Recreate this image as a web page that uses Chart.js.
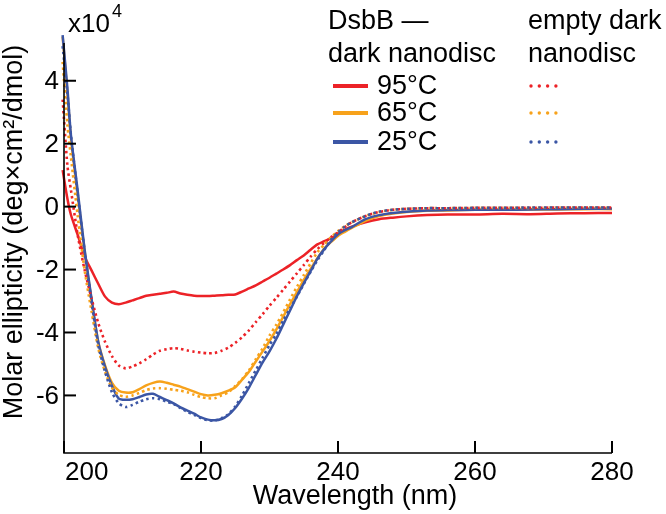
<!DOCTYPE html>
<html>
<head>
<meta charset="utf-8">
<script src="https://cdn.jsdelivr.net/npm/chart.js@4/dist/chart.umd.min.js"></script>
<style>
  html, body { margin: 0; padding: 0; background: #fff; }
  #wrap { width: 666px; height: 514px; }
</style>
</head>
<body>
<div id="wrap"><canvas id="cd" width="666" height="514"></canvas></div>
<script>
// --- DATA (units of 10^4 deg·cm²/dmol) ---
const wavelength = [199.8, 200.5, 201, 202, 203, 204, 205, 206, 207, 208, 209, 210, 211, 212, 213, 214, 215, 216, 217, 218, 219, 220,
  221, 222, 223, 224, 225, 226, 227, 228, 229, 230, 231, 232, 233, 234, 235, 236, 237, 238, 239, 240, 241, 242, 244, 246, 248, 250,
  253, 256, 260, 264, 268, 272, 276, 280];

const dsbb95 = [1.16, 0.25, -0.25, -0.9, -1.58, -2.02, -2.45, -2.86, -3.05, -3.1, -3.05, -2.98, -2.91, -2.83, -2.8, -2.77, -2.74, -2.7, -2.76, -2.8, -2.83, -2.84,
  -2.84, -2.83, -2.82, -2.8, -2.79, -2.7, -2.6, -2.5, -2.38, -2.26, -2.13, -2.0, -1.86, -1.7, -1.55, -1.37, -1.2, -1.1, -1.0, -0.85, -0.73, -0.64, -0.5, -0.4, -0.35, -0.31,
  -0.27, -0.25, -0.25, -0.23, -0.24, -0.22, -0.21, -0.2];
const dsbb65 = [5.4, 3.6, 2.2, 0.35, -1.4, -2.95, -4.3, -5.05, -5.6, -5.85, -5.91, -5.9, -5.8, -5.68, -5.6, -5.56, -5.6, -5.66, -5.72, -5.8, -5.88, -5.96,
  -6.0, -5.98, -5.93, -5.85, -5.74, -5.5, -5.25, -4.92, -4.6, -4.27, -3.9, -3.5, -3.1, -2.72, -2.33, -1.98, -1.64, -1.33, -1.12, -0.93, -0.8, -0.68, -0.45, -0.3, -0.22, -0.17,
  -0.13, -0.12, -0.1, -0.1, -0.09, -0.09, -0.08, -0.08];
const dsbb25 = [5.45, 3.75, 2.3, 0.5, -1.35, -2.9, -4.3, -5.1, -5.7, -6.1, -6.14, -6.12, -6.05, -5.97, -5.95, -6.05, -6.15, -6.25, -6.38, -6.48, -6.58, -6.7,
  -6.77, -6.79, -6.75, -6.62, -6.4, -6.1, -5.75, -5.35, -4.95, -4.6, -4.2, -3.75, -3.3, -2.85, -2.44, -2.05, -1.65, -1.35, -1.1, -0.88, -0.75, -0.65, -0.4, -0.27, -0.2, -0.16,
  -0.12, -0.11, -0.1, -0.1, -0.09, -0.08, -0.07, -0.06];

const empty95 = [3.4, 1.3, 0.55, -0.9, -2.0, -2.9, -3.7, -4.3, -4.75, -5.05, -5.14, -5.08, -4.98, -4.85, -4.7, -4.58, -4.53, -4.5, -4.52, -4.57, -4.61, -4.64,
  -4.66, -4.65, -4.58, -4.48, -4.33, -4.15, -3.93, -3.67, -3.42, -3.15, -2.9, -2.64, -2.38, -2.12, -1.86, -1.59, -1.35, -1.15, -0.97, -0.82, -0.65, -0.5, -0.3, -0.17, -0.1, -0.07,
  -0.05, -0.05, -0.04, -0.04, -0.04, -0.03, -0.03, -0.03];
const empty65 = [4.6, 2.6, 1.6, -0.3, -2.0, -3.3, -4.5, -5.25, -5.75, -5.98, -6.04, -6.0, -5.92, -5.83, -5.78, -5.77, -5.79, -5.82, -5.85, -5.9, -5.98, -6.05,
  -6.09, -6.09, -6.0, -5.9, -5.7, -5.48, -5.2, -4.85, -4.5, -4.1, -3.75, -3.36, -2.95, -2.55, -2.18, -1.8, -1.45, -1.2, -0.97, -0.78, -0.62, -0.5, -0.3, -0.17, -0.1, -0.07,
  -0.05, -0.05, -0.04, -0.04, -0.04, -0.03, -0.03, -0.03];
const empty25 = [5.1, 3.6, 2.3, 0.4, -1.4, -3.0, -4.4, -5.25, -5.9, -6.25, -6.37, -6.3, -6.2, -6.12, -6.09, -6.12, -6.2, -6.27, -6.4, -6.52, -6.62, -6.72,
  -6.79, -6.8, -6.72, -6.6, -6.35, -6.0, -5.6, -5.2, -4.8, -4.4, -4.05, -3.62, -3.24, -2.86, -2.46, -2.07, -1.7, -1.38, -1.04, -0.82, -0.63, -0.5, -0.3, -0.16, -0.1, -0.07,
  -0.05, -0.05, -0.04, -0.04, -0.03, -0.03, -0.03, -0.03];

const xTicks = [200, 220, 240, 260, 280];
const yTicks = [-6, -4, -2, 0, 2, 4];
const tempLabels = ['95°C', '65°C', '25°C'];

const RED = '#ec2227', ORANGE = '#f7a21b', BLUE = '#3b56a5';
const FONT = '"Liberation Sans", Arial, sans-serif';

const pts = arr => arr.map((v, i) => ({ x: wavelength[i], y: v }));
const clipBox = { left: 6, top: 12, right: 2, bottom: 2 };

function solid(data, color) {
  return { data: pts(data), borderColor: color, borderWidth: 2.5, pointRadius: 0, tension: 0.25, clip: clipBox };
}
function dotted(data, color) {
  return { data: pts(data), borderColor: color, borderWidth: 2.6, borderDash: [2.5, 3.2], pointRadius: 0, tension: 0.25, clip: clipBox };
}

// --- axes, ticks, titles and legend drawn by hand (MATLAB-like inner ticks) ---
const decor = {
  id: 'decor',
  afterDraw(chart) {
    const ctx = chart.ctx;
    const { left, right, top, bottom } = chart.chartArea;
    const xs = chart.scales.x, ys = chart.scales.y;
    ctx.save();
    ctx.strokeStyle = '#000';
    ctx.fillStyle = '#000';
    ctx.lineWidth = 1.6;
    ctx.beginPath();
    ctx.moveTo(left, top); ctx.lineTo(left, bottom); ctx.lineTo(right, bottom);
    ctx.stroke();

    ctx.lineWidth = 2;
    ctx.font = '26px ' + FONT;
    ctx.textBaseline = 'middle';
    ctx.textAlign = 'right';
    yTicks.forEach(v => {
      const y = ys.getPixelForValue(v);
      ctx.beginPath(); ctx.moveTo(left, y); ctx.lineTo(left + 12, y); ctx.stroke();
      ctx.fillText(String(v), left - 5, y + 1);
    });
    xTicks.forEach((v, i) => {
      const x = xs.getPixelForValue(v);
      ctx.beginPath(); ctx.moveTo(x, bottom); ctx.lineTo(x, bottom - 12); ctx.stroke();
      ctx.textAlign = i === 0 ? 'left' : 'center';
      ctx.fillText(String(v), i === 0 ? x + 1 : x, 473);
    });

    // x10^4
    ctx.textAlign = 'left';
    ctx.fillText('x10', 68, 25);
    ctx.font = '18px ' + FONT;
    ctx.fillText('4', 112, 12);

    // titles
    ctx.font = '27px ' + FONT;
    ctx.textAlign = 'center';
    ctx.fillText('Wavelength (nm)', 355, 497);
    ctx.save();
    ctx.translate(15, 232);
    ctx.rotate(-Math.PI / 2);
    ctx.fillText('Molar ellipticity (deg×cm²/dmol)', 0, 0);
    ctx.restore();

    // legend
    ctx.textAlign = 'left';
    ctx.fillText('DsbB —', 328, 22);
    ctx.fillText('dark nanodisc', 328, 55);
    ctx.fillText('empty dark', 528, 22);
    ctx.fillText('nanodisc', 528, 55);
    const rows = [86, 113, 142];
    [RED, ORANGE, BLUE].forEach((c, i) => {
      const y = rows[i];
      ctx.strokeStyle = c;
      ctx.lineWidth = 4;
      ctx.setLineDash([]);
      ctx.beginPath(); ctx.moveTo(333, y); ctx.lineTo(368, y); ctx.stroke();
      ctx.fillStyle = c;
      for (let k = 0; k < 4; k++) {
        ctx.beginPath(); ctx.arc(531 + k * 8.3, y, 1.7, 0, Math.PI * 2); ctx.fill();
      }
      ctx.fillStyle = '#000';
      ctx.fillText(tempLabels[i], 377, y + 1);
    });
    ctx.restore();
  }
};

new Chart(document.getElementById('cd'), {
  type: 'line',
  data: {
    datasets: [
      dotted(empty25, BLUE),
      dotted(empty65, ORANGE),
      dotted(empty95, RED),
      solid(dsbb25, BLUE),
      solid(dsbb65, ORANGE),
      solid(dsbb95, RED)
    ]
  },
  options: {
    responsive: false,
    animation: false,
    layout: { padding: { left: 64, right: 54, top: 43, bottom: 61 } },
    plugins: { legend: { display: false }, tooltip: { enabled: false } },
    scales: {
      x: { type: 'linear', min: 200, max: 280, display: false },
      y: { type: 'linear', min: -7.83, max: 5.2, display: false }
    }
  },
  plugins: [decor]
});
</script>
</body>
</html>
